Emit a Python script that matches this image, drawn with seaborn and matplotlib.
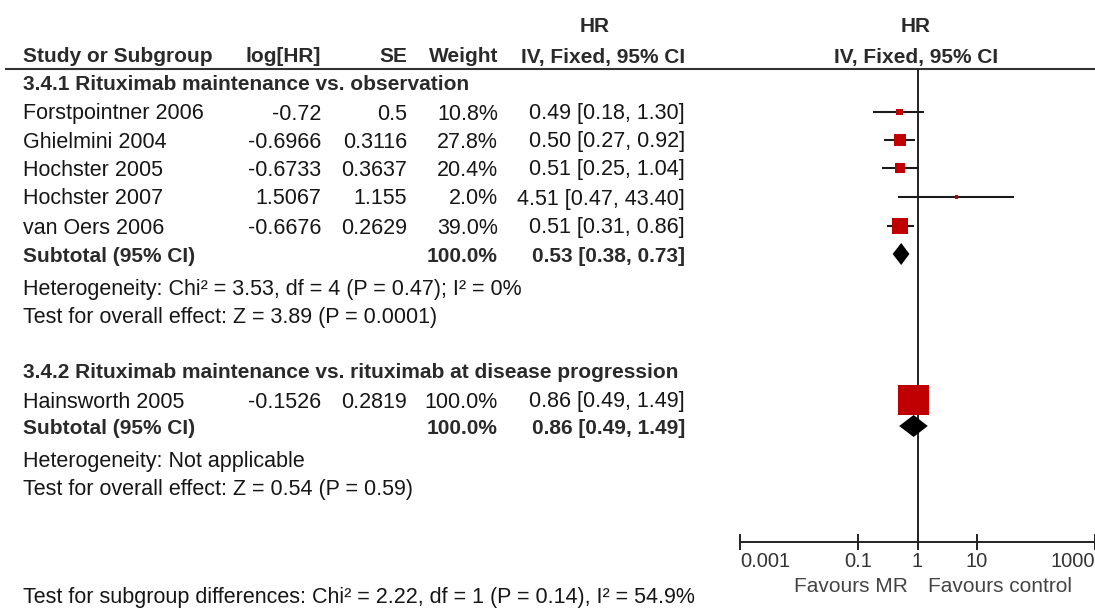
import numpy as np
import pandas as pd
import matplotlib
matplotlib.use("Agg")
import matplotlib.pyplot as plt
from matplotlib.ticker import NullLocator
import seaborn as sns

# ---- Subgroup 3.4.1: Rituximab maintenance vs. observation ----
studies_1 = ["Forstpointner 2006", "Ghielmini 2004", "Hochster 2005", "Hochster 2007", "van Oers 2006"]
log_hr_1 = [-0.72, -0.6966, -0.6733, 1.5067, -0.6676]
se_1 = [0.5, 0.3116, 0.3637, 1.155, 0.2629]
weight_1 = [10.8, 27.8, 20.4, 2.0, 39.0]
hr_1 = [0.49, 0.50, 0.51, 4.51, 0.51]
lo_1 = [0.18, 0.27, 0.25, 0.47, 0.31]
hi_1 = [1.30, 0.92, 1.04, 43.40, 0.86]
subtotal_1 = [0.53, 0.38, 0.73]  # HR, lower, upper

# ---- Subgroup 3.4.2: Rituximab maintenance vs. rituximab at disease progression ----
studies_2 = ["Hainsworth 2005"]
log_hr_2 = [-0.1526]
se_2 = [0.2819]
weight_2 = [100.0]
hr_2 = [0.86]
lo_2 = [0.49]
hi_2 = [1.49]
subtotal_2 = [0.86, 0.49, 1.49]

group_titles = ["3.4.1 Rituximab maintenance vs. observation",
                "3.4.2 Rituximab maintenance vs. rituximab at disease progression"]
heterogeneity = ["Heterogeneity: Chi\u00b2 = 3.53, df = 4 (P = 0.47); I\u00b2 = 0%",
                 "Heterogeneity: Not applicable"]
overall_effect = ["Test for overall effect: Z = 3.89 (P = 0.0001)",
                  "Test for overall effect: Z = 0.54 (P = 0.59)"]
subgroup_diff = "Test for subgroup differences: Chi\u00b2 = 2.22, df = 1 (P = 0.14), I\u00b2 = 54.9%"

axis_ticks = [0.001, 0.1, 1, 10, 1000]
axis_labels = ["0.001", "0.1", "1", "10", "1000"]
favours = ["Favours MR", "Favours control"]

# ---- layout (figure pixel units) ----
W, H = 1095, 612
rows_1 = [112, 140, 168, 197, 226]
sub_row_1 = 254
rows_2 = [400]
sub_row_2 = 426
axis_y = 542
TEXT_DY = 2  # nudge so glyph centres sit on the row lines

sns.set_theme(style="white")
plt.rcParams["font.family"] = ["Liberation Sans", "DejaVu Sans"]

fig = plt.figure(figsize=(W / 100, H / 100), dpi=100)
tax = fig.add_axes([0, 0, 1, 1])
tax.set_xlim(0, W)
tax.set_ylim(H, 0)
tax.axis("off")

REG = 15.5
BOLD = 15
c_reg = "#161616"
c_bold = "#2a2a2a"

def txt(x, y, s, ha="left", bold=False, size=None, color=None):
    tax.text(x, y + TEXT_DY, s, ha=ha, va="center",
             fontsize=size or (BOLD if bold else REG),
             fontweight="bold" if bold else "normal",
             color=color or (c_bold if bold else c_reg))

x_name, x_log, x_se, x_w, x_ci = 23, 321, 407, 498, 685

# header
txt(595, 24, "HR", ha="center", bold=True)
txt(916, 24, "HR", ha="center", bold=True)
txt(x_name, 55, "Study or Subgroup", bold=True)
txt(x_log, 55, "log[HR]", ha="right", bold=True)
txt(x_se, 55, "SE", ha="right", bold=True)
txt(x_w, 55, "Weight", ha="right", bold=True)
txt(x_ci, 55, "IV, Fixed, 95% CI", ha="right", bold=True)
txt(916, 55, "IV, Fixed, 95% CI", ha="center", bold=True)
tax.plot([5, W], [68.5, 68.5], color="#333333", lw=1.5, solid_capstyle="butt")

def fmt_ci(h, l, u):
    return f"{h:.2f} [{l:.2f}, {u:.2f}]"

def table_block(title_y, title, names, lhr, se, wts, hrs, los, his, rows,
                sub, sub_y, het_y, het, eff_y, eff):
    txt(x_name, title_y, title, bold=True)
    for n, a, b, w, h, l, u, y in zip(names, lhr, se, wts, hrs, los, his, rows):
        txt(x_name, y, n)
        txt(x_log, y, str(a), ha="right")
        txt(x_se, y, str(b), ha="right")
        txt(x_w, y, f"{w:.1f}%", ha="right")
        txt(x_ci, y, fmt_ci(h, l, u), ha="right")
    txt(x_name, sub_y, "Subtotal (95% CI)", bold=True)
    txt(x_w, sub_y, f"{sum(wts):.1f}%", ha="right", bold=True)
    txt(x_ci, sub_y, fmt_ci(*sub), ha="right", bold=True)
    txt(x_name, het_y, het)
    txt(x_name, eff_y, eff)

table_block(82, group_titles[0], studies_1, log_hr_1, se_1, weight_1, hr_1, lo_1, hi_1,
            rows_1, subtotal_1, sub_row_1, 287, heterogeneity[0], 316, overall_effect[0])
table_block(370, group_titles[1], studies_2, log_hr_2, se_2, weight_2, hr_2, lo_2, hi_2,
            rows_2, subtotal_2, sub_row_2, 459, heterogeneity[1], 488, overall_effect[1])
txt(x_name, 596, subgroup_diff)

# ---- forest panel on a log HR axis ----
fax = fig.add_axes([740 / W, 0, (W - 740) / W, 1])
fax.patch.set_alpha(0)
fax.set_xscale("log")
fax.set_xlim(0.001, 1000)
fax.set_ylim(H, 0)

studies = pd.DataFrame({
    "study": studies_1 + studies_2,
    "hr": hr_1 + hr_2,
    "lo": lo_1 + lo_2,
    "hi": hi_1 + hi_2,
    "weight": weight_1 + weight_2,
    "row": rows_1 + rows_2,
})
# square side in pixels grows with study weight
side_px = 2 + 0.72 * studies["weight"] ** 0.8
studies["area"] = (side_px * 0.72) ** 2

fax.vlines(1, 68.5, axis_y, color="#222222", lw=1.4)
fax.hlines(studies["row"], studies["lo"], studies["hi"], color="#1a1a1a", lw=1.5, zorder=2)
sns.scatterplot(data=studies, x="hr", y="row", marker="s", s=studies["area"].to_numpy(),
                color="#c00000", linewidth=0, ax=fax, legend=False, zorder=3, clip_on=False)

for (h, l, u), y in [(subtotal_1, sub_row_1), (subtotal_2, sub_row_2)]:
    fax.fill([l, h, u, h], [y, y - 11, y, y + 11], color="black", lw=0, zorder=3)

for side in ["top", "right", "left"]:
    fax.spines[side].set_visible(False)
fax.spines["bottom"].set_position(("data", axis_y))
fax.spines["bottom"].set_color("#222222")
fax.spines["bottom"].set_linewidth(1.4)
fax.set_xticks(axis_ticks)
fax.set_xticklabels(axis_labels)
fax.xaxis.set_minor_locator(NullLocator())
fax.tick_params(axis="x", direction="inout", length=11, width=1.4, color="#222222",
                labelsize=14.5, labelcolor="#333333", pad=2, bottom=True)
labels = fax.get_xticklabels()
labels[0].set_ha("left")
labels[-1].set_ha("right")
fax.set_yticks([])
fax.set_xlabel("")
fax.set_ylabel("")

txt(908, 584, favours[0], ha="right", size=15, color="#444444")
txt(928, 584, favours[1], ha="left", size=15, color="#444444")

fig.savefig("out.png", dpi=100)
